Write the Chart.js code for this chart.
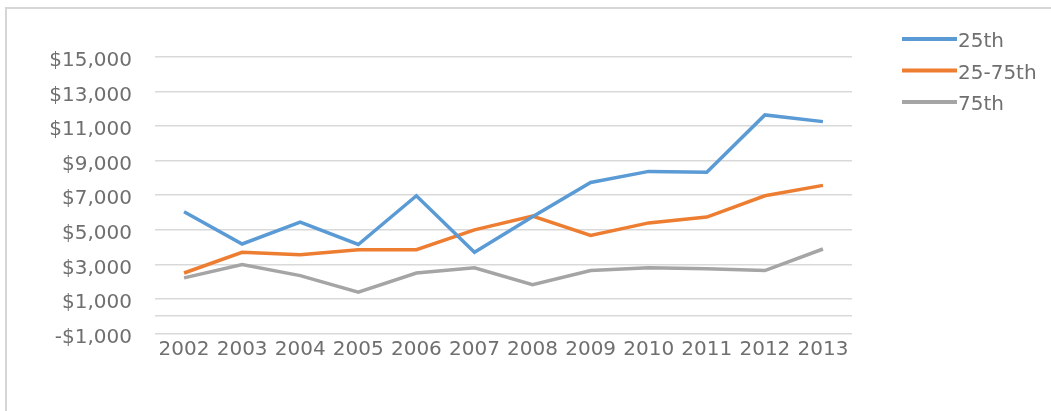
<!DOCTYPE html>
<html>
<head>
<meta charset="utf-8">
<script src="https://cdn.jsdelivr.net/npm/chart.js@4/dist/chart.umd.min.js"></script>
<style>
  html, body { margin: 0; padding: 0; background: #ffffff; }
  #wrap { position: relative; width: 1051px; height: 411px; overflow: hidden; }
  #frame { position: absolute; left: 5px; top: 7px; width: 1100px; height: 500px;
           border-left: 2px solid #d6d6d6; border-top: 2px solid #d6d6d6; }
  canvas { position: absolute; left: 0; top: 0; }
</style>
</head>
<body>
<div id="wrap">
  <div id="frame"></div>
  <canvas id="chart" width="1051" height="411"></canvas>
</div>
<script>
// Years on the category axis
const years = ['2002', '2003', '2004', '2005', '2006', '2007', '2008', '2009', '2010', '2011', '2012', '2013'];

// Values per series (dollars)
const p25 = [6050, 4180, 5450, 4150, 6970, 3700, 5750, 7740, 8380, 8330, 11650, 11260];
const p25to75 = [2500, 3700, 3560, 3850, 3850, 5000, 5800, 4680, 5400, 5740, 6970, 7570];
const p75 = [2220, 2990, 2350, 1390, 2500, 2800, 1830, 2640, 2800, 2750, 2640, 3890];

const seriesNames = ['25th', '25-75th', '75th'];
const seriesColors = ['#5b9bd5', '#ed7d31', '#a5a5a5'];

// Value axis settings
const yMin = -1000;
const yMax = 15000;
const yStep = 2000;

const textColor = '#6f6f6f';
const gridColor = '#d9d9d9';
const fontFamily = '"DejaVu Sans", sans-serif';

function money(v) {
  const s = '$' + Math.abs(v).toLocaleString('en-US');
  return v < 0 ? '-' + s : s;
}

// Legend drawn as a vertical list of line swatches at the top right
const sideLegend = {
  id: 'sideLegend',
  afterDraw(chart) {
    const ctx = chart.ctx;
    const x0 = 902, x1 = 957, top = 39, gap = 31.5;
    ctx.save();
    chart.data.datasets.forEach((ds, i) => {
      const y = top + i * gap;
      ctx.strokeStyle = ds.borderColor;
      ctx.lineWidth = 4;
      ctx.lineCap = 'butt';
      ctx.beginPath();
      ctx.moveTo(x0, y);
      ctx.lineTo(x1, y);
      ctx.stroke();
      ctx.fillStyle = textColor;
      ctx.font = '20px ' + fontFamily;
      ctx.textAlign = 'left';
      ctx.textBaseline = 'middle';
      ctx.fillText(ds.label, x1 + 1, y + 3);
    });
    ctx.restore();
  }
};

const datasets = [p25, p25to75, p75].map((vals, i) => ({
  label: seriesNames[i],
  data: vals,
  borderColor: seriesColors[i],
  backgroundColor: seriesColors[i],
  borderWidth: 3.5,
  pointRadius: 0,
  tension: 0,
  fill: false
}));

new Chart(document.getElementById('chart'), {
  type: 'line',
  data: { labels: years, datasets: datasets },
  options: {
    responsive: false,
    animation: false,
    layout: { padding: { left: 0, top: 57, right: 199, bottom: 0 } },
    plugins: {
      legend: { display: false },
      tooltip: { enabled: false }
    },
    scales: {
      x: {
        type: 'category',
        offset: true,
        grid: { display: false, drawTicks: false },
        border: { display: false },
        ticks: {
          color: textColor,
          font: { family: fontFamily, size: 20 },
          padding: 4,
          maxRotation: 0,
          autoSkip: false
        },
        afterFit(scale) { scale.height = 77.5; }
      },
      y: {
        min: yMin,
        max: yMax,
        grid: { color: gridColor, lineWidth: 1.6, drawTicks: false },
        border: { display: false },
        ticks: {
          stepSize: yStep,
          color: textColor,
          font: { family: fontFamily, size: 20 },
          padding: 23,
          labelOffset: 4,
          callback: (v) => (v === 0 ? '' : money(v))
        },
        // the zero baseline gets its own gridline without a label
        afterBuildTicks(scale) {
          if (!scale.ticks.some(t => t.value === 0)) {
            scale.ticks.push({ value: 0 });
            scale.ticks.sort((a, b) => a.value - b.value);
          }
        },
        afterFit(scale) { scale.width = 155; }
      }
    }
  },
  plugins: [sideLegend]
});
</script>
</body>
</html>
